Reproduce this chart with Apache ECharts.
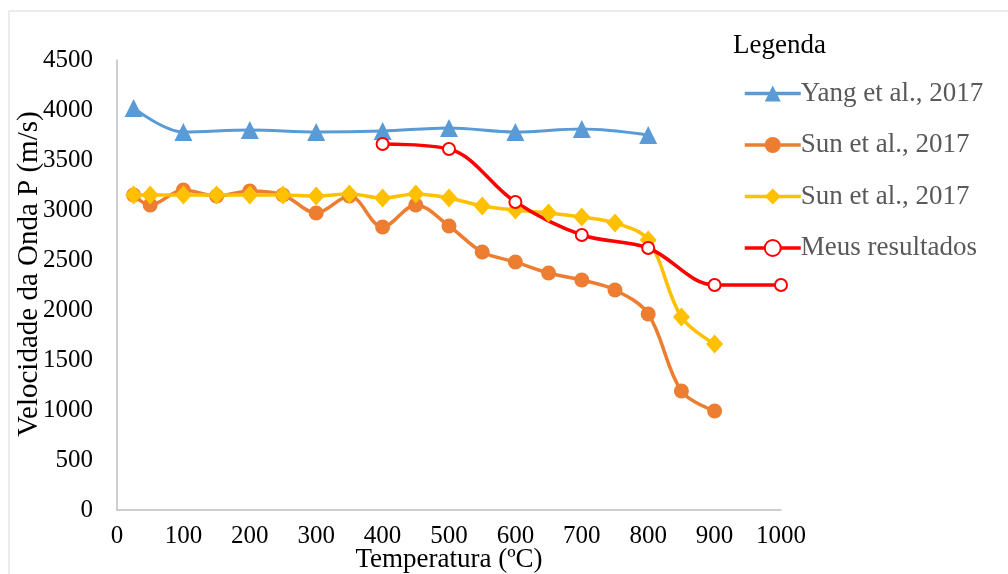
<!DOCTYPE html>
<html>
<head>
<meta charset="utf-8">
<script src="https://cdn.jsdelivr.net/npm/echarts@6/dist/echarts.min.js"></script>
<style>
  html, body { margin: 0; padding: 0; background: #fff; }
  #chart { width: 1008px; height: 574px; }
</style>
</head>
<body>
<div id="chart"></div>
<script>
// Temperatures (ºC) and P-wave velocities (m/s) for each data set
const yangTemps = [25, 100, 200, 300, 400, 500, 600, 700, 800];
const yangVel = [4020, 3780, 3800, 3780, 3790, 3820, 3780, 3810, 3750];

const sunTemps = [25, 50, 100, 150, 200, 250, 300, 350, 400, 450, 500, 550, 600, 650, 700, 750, 800, 850, 900];
const sunVelA = [3150, 3050, 3200, 3140, 3190, 3150, 2970, 3140, 2830, 3050, 2840, 2580, 2480, 2370, 2300, 2200, 1960, 1190, 990];
const sunVelB = [3150, 3150, 3150, 3150, 3150, 3150, 3140, 3160, 3120, 3160, 3120, 3040, 3000, 2970, 2930, 2870, 2700, 1930, 1660];

const meusTemps = [400, 500, 600, 700, 800, 900, 1000];
const meusVel = [3660, 3610, 3080, 2750, 2620, 2250, 2250];

const seriesNames = ['Yang et al., 2017', 'Sun et al., 2017', 'Sun et al., 2017 ', 'Meus resultados'];
const legendLabels = ['Yang et al., 2017', 'Sun et al., 2017', 'Sun et al., 2017', 'Meus resultados'];

const xTicks = { min: 0, max: 1000, step: 100 };
const yTicks = { min: 0, max: 4500, step: 500 };

const pairs = (xs, ys) => xs.map((x, i) => [x, ys[i]]);

const FONT = '"Liberation Serif", "Times New Roman", serif';

const chart = echarts.init(document.getElementById('chart'), null, { renderer: 'canvas' });

chart.setOption({
  animation: false,
  backgroundColor: '#fff',
  textStyle: { fontFamily: FONT },
  graphic: [{
    type: 'rect',
    shape: { x: 9, y: 11, width: 1020, height: 600 },
    style: { fill: 'none', stroke: '#d9d9d9', lineWidth: 1 },
    silent: true, z: -1
  }],
  title: {
    text: 'Legenda',
    left: 728, top: 27,
    textStyle: { fontFamily: FONT, fontSize: 27, fontWeight: 'normal', color: '#000' }
  },
  legend: {
    orient: 'vertical',
    left: 738, top: 75,
    itemWidth: 56, itemHeight: 20, itemGap: 24.5,
    data: seriesNames,
    formatter: name => legendLabels[seriesNames.indexOf(name)],
    lineStyle: { width: 3.5 },
    textStyle: { fontFamily: FONT, fontSize: 27, color: '#595959', padding: [0, 0, 0, -5] }
  },
  grid: { left: 117, right: 227, top: 60, bottom: 64, containLabel: false, outerBoundsMode: 'none' },
  xAxis: {
    type: 'value',
    min: xTicks.min, max: xTicks.max, interval: xTicks.step,
    name: 'Temperatura (ºC)',
    nameLocation: 'middle', nameGap: 36, nameMoveOverlap: false,
    nameTextStyle: { fontFamily: FONT, fontSize: 27, color: '#000' },
    axisLine: { show: true, lineStyle: { color: '#bfbfbf', width: 1.5 } },
    axisTick: { show: false },
    splitLine: { show: false },
    axisLabel: { fontFamily: FONT, fontSize: 25, color: '#000', margin: 14, formatter: v => String(v) }
  },
  yAxis: {
    type: 'value',
    min: yTicks.min, max: yTicks.max, interval: yTicks.step,
    name: 'Velocidade da Onda P (m/s)',
    nameLocation: 'middle', nameGap: 73, nameMoveOverlap: false,
    nameTextStyle: { fontFamily: FONT, fontSize: 29, color: '#000', padding: [0, 0, 0, 22] },
    axisLine: { show: true, lineStyle: { color: '#bfbfbf', width: 1.5 } },
    axisTick: { show: false },
    splitLine: { show: false },
    axisLabel: { fontFamily: FONT, fontSize: 25, color: '#000', margin: 24, formatter: v => String(v) }
  },
  series: [
    {
      name: seriesNames[0], type: 'line', smooth: 0.35,
      data: pairs(yangTemps, yangVel),
      symbol: 'triangle', symbolSize: 18,
      itemStyle: { color: '#5b9bd5' },
      lineStyle: { color: '#5b9bd5', width: 3 }
    },
    {
      name: seriesNames[1], type: 'line', smooth: 0.35,
      data: pairs(sunTemps, sunVelA),
      symbol: 'circle', symbolSize: 15,
      itemStyle: { color: '#ed7d31' },
      lineStyle: { color: '#ed7d31', width: 3.5 }
    },
    {
      name: seriesNames[2], type: 'line', smooth: 0.35,
      data: pairs(sunTemps, sunVelB),
      symbol: 'diamond', symbolSize: [17, 19],
      itemStyle: { color: '#ffc000' },
      lineStyle: { color: '#ffc000', width: 3.5 }
    },
    {
      name: seriesNames[3], type: 'line', smooth: 0.35,
      data: pairs(meusTemps, meusVel),
      symbol: 'emptyCircle', symbolSize: 12,
      itemStyle: { color: '#ff0000', borderWidth: 2 },
      lineStyle: { color: '#ff0000', width: 3.5 }
    }
  ]
});
</script>
</body>
</html>
